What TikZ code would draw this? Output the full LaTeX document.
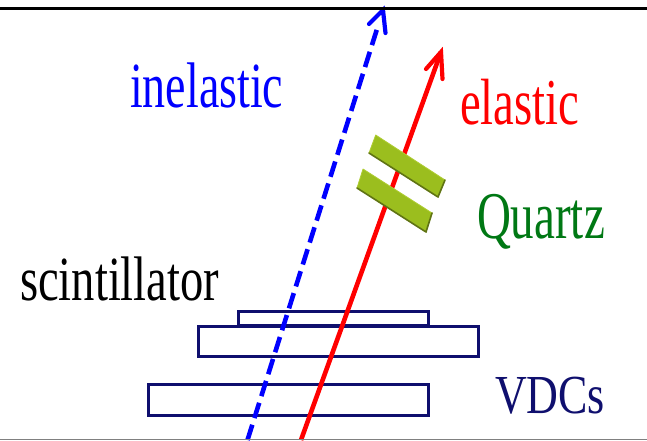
\documentclass[tikz,border=0pt]{standalone}
\usepackage{fontspec}
\setmainfont{Liberation Serif}
\usetikzlibrary{calc}
\definecolor{navy}{RGB}{15,15,110}
\definecolor{qface}{RGB}{155,190,30}
\definecolor{qlight}{RGB}{175,205,50}
\definecolor{qdark}{RGB}{95,115,20}
\definecolor{qgreen}{RGB}{0,120,20}
\tikzset{
  det/.style={draw=navy,line width=3pt,fill=none,inner sep=0pt,outer sep=0pt,anchor=north west},
  lab/.style={anchor=base west,inner sep=0pt,outer sep=0pt,font=\fontsize{#1}{#1}\selectfont},
  tip/.style={line width=4.2pt,line cap=round,line join=miter},
  bar/.style={fill=qface,draw=qlight,line width=.8pt,line join=round},
  barshade/.style={draw=qdark,line width=1.6pt,line join=round,line cap=round}
}
\begin{document}
\begin{tikzpicture}[x=1pt,y=-1pt]
\useasboundingbox (0,0) rectangle (647,440);
\fill[white] (0,0) rectangle (647,440);
\coordinate (tl) at (0,8.5); \coordinate (tr) at (647,8.5);
\coordinate (bl) at (0,439.5); \coordinate (br) at (647,439.5);
\coordinate (bs) at (247.5,440); \coordinate (be) at (383,10);
\coordinate (rs) at (301,440); \coordinate (re) at (441,52);
\node[det,minimum width=190pt,minimum height=14pt] (scint) at (238,311) {};
\node[det,minimum width=280pt,minimum height=30pt] (vdcA) at (198,326) {};
\node[det,minimum width=280pt,minimum height=31pt] (vdcB) at (148,384) {};
\draw[red,line width=4.6pt] (rs) -- (re);
\draw[red,tip] (426,69) -- (re) -- (442.5,79);
\draw[blue,line width=4.6pt,dash pattern=on 16pt off 7pt] (bs) -- ($(bs)!0.96!(be)$);
\draw[blue,tip] (369,24) -- (be) -- (385.5,33);
\draw[bar] (375.7,135) -- (445,180) -- (438,197) -- (369,153) -- cycle;
\draw[barshade] (445,180) -- (438,197) -- (369,153);
\draw[bar] (363,169) -- (432,213) -- (426,232) -- (357,188) -- cycle;
\draw[barshade] (432,213) -- (426,232) -- (357,188);
\draw[black,line width=3.5pt] (tl) -- (tr);
\draw[gray,line width=1pt] (bl) -- (br);
\node[lab=46,text=blue,yscale=1.4] (inel) at (130,107) {inelastic};
\node[lab=46.7,text=red,yscale=1.4] (el) at (460,124) {elastic};
\node[lab=47,text=qgreen,yscale=1.42] (qz) at (477,238) {Quartz};
\node[lab=46.6,text=black,yscale=1.35] (sc) at (20,300) {scintillator};
\node[lab=44,text=navy,yscale=1.25] (vd) at (495,413) {VDCs};
\end{tikzpicture}
\end{document}
